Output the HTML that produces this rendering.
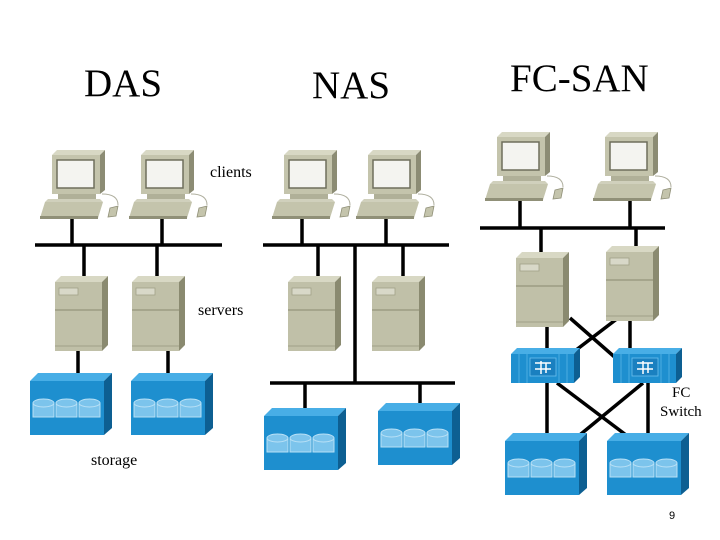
<!DOCTYPE html>
<html><head><meta charset="utf-8"><style>body{margin:0;background:#fff}svg{display:block}</style></head><body>
<svg width="720" height="540" viewBox="0 0 720 540" xmlns="http://www.w3.org/2000/svg">
<defs>
<g id="pc">
<polygon points="0,5 5,0 53,0 48,5" fill="#d8d8c4"/>
<polygon points="48,5 53,0 53,40 48,44" fill="#8c8c74"/>
<rect x="0" y="5" width="48" height="39" fill="#c4c4ac"/>
<rect x="5" y="10" width="37" height="28" fill="#f4f4f0" stroke="#6e6e5c" stroke-width="1.5"/>
<rect x="6" y="44" width="38" height="5" fill="#b0b098"/>
<polygon points="-4,49 48,49 51,52 -7,52" fill="#d0d0bc"/>
<polygon points="-7,52 51,52 46,68 -12,68" fill="#c4c4ac"/>
<rect x="-12" y="66" width="58" height="3" fill="#909078"/>
<path d="M50,44 Q66,44 66,55" fill="none" stroke="#b0b0a0" stroke-width="1"/>
<polygon points="58,58 66,56 64,66 56,67" fill="#c4c4ac" stroke="#909078" stroke-width="0.8"/>
</g>
<g id="srv">
<polygon points="0,6 6,0 53,0 47,6" fill="#d8d8c4"/>
<polygon points="47,6 53,0 53,69 47,75" fill="#8a8a70"/>
<rect x="0" y="6" width="47" height="69" fill="#c0c0a8"/>
<rect x="4" y="12" width="19" height="7" fill="#d8d8c8" stroke="#a0a088" stroke-width="0.8"/>
<line x1="0" y1="34" x2="47" y2="34" stroke="#8a8a70" stroke-width="1"/>
<line x1="0" y1="70" x2="47" y2="70" stroke="#a0a088" stroke-width="1"/>
</g>
<g id="sto">
<polygon points="0,8 8,0 82,0 74,8" fill="#48aee6"/>
<polygon points="74,8 82,0 82,55 74,62" fill="#0d5f92"/>
<rect x="0" y="8" width="74" height="54" fill="#1e8fcf"/>
<g fill="#7cc4ec" stroke="#b8e0f6" stroke-width="1">
<rect x="3" y="30" width="21" height="14"/><ellipse cx="13.5" cy="30" rx="10.5" ry="4"/>
<rect x="26" y="30" width="21" height="14"/><ellipse cx="36.5" cy="30" rx="10.5" ry="4"/>
<rect x="49" y="30" width="21" height="14"/><ellipse cx="59.5" cy="30" rx="10.5" ry="4"/>
</g>
</g>
<g id="sw">
<polygon points="0,6 6,0 69,0 63,6" fill="#48aee6"/>
<polygon points="63,6 69,0 69,29 63,35" fill="#0d5f92"/>
<rect x="0" y="6" width="63" height="29" fill="#1e8fcf"/>
<g stroke="#6cc0ee" stroke-width="0.6"><line x1="8" y1="6" x2="8" y2="35"/><line x1="16" y1="6" x2="16" y2="35"/><line x1="48" y1="6" x2="48" y2="35"/><line x1="56" y1="6" x2="56" y2="35"/></g>
<rect x="19" y="10" width="26" height="18" fill="#1a80c0" stroke="#6cc0ee" stroke-width="0.8"/>
<g stroke="#fff" stroke-width="1.5"><line x1="24" y1="15" x2="40" y2="15"/><line x1="30" y1="13" x2="30" y2="26"/><line x1="35" y1="15" x2="35" y2="25"/><line x1="24" y1="21" x2="40" y2="21"/></g>
</g>
</defs>
<g font-family="Liberation Serif, serif" fill="#000">
<text x="84" y="96" font-size="39">DAS</text>
<text x="312" y="98" font-size="39">NAS</text>
<text x="510" y="91" font-size="39">FC-SAN</text>
<text x="210" y="177" font-size="16">clients</text>
<text x="198" y="315" font-size="16">servers</text>
<text x="91" y="465" font-size="16">storage</text>
<text x="672" y="397" font-size="15">FC</text>
<text x="660" y="416" font-size="15">Switch</text>
</g>
<text x="669" y="519" font-size="11" font-family="Liberation Sans, sans-serif">9</text>
<g stroke="#000" stroke-width="3.5" fill="none">
<line x1="35" y1="245" x2="222" y2="245"/>
<line x1="72" y1="215" x2="72" y2="245"/><line x1="162" y1="215" x2="162" y2="245"/>
<line x1="84" y1="245" x2="84" y2="278"/><line x1="157" y1="245" x2="157" y2="278"/>
<line x1="78" y1="348" x2="78" y2="375"/><line x1="168" y1="348" x2="168" y2="375"/>
<line x1="263" y1="245" x2="449" y2="245"/>
<line x1="302" y1="215" x2="302" y2="245"/><line x1="386" y1="215" x2="386" y2="245"/>
<line x1="318" y1="245" x2="318" y2="278"/><line x1="403" y1="245" x2="403" y2="278"/>
<line x1="355" y1="245" x2="355" y2="383"/>
<line x1="270" y1="383" x2="455" y2="383"/>
<line x1="305" y1="383" x2="305" y2="410"/><line x1="420" y1="383" x2="420" y2="405"/>
<line x1="480" y1="228" x2="665" y2="228"/>
<line x1="520" y1="198" x2="520" y2="228"/><line x1="630" y1="198" x2="630" y2="228"/>
<line x1="541" y1="228" x2="541" y2="255"/><line x1="636" y1="228" x2="636" y2="250"/>
<line x1="547" y1="318" x2="547" y2="350"/><line x1="630" y1="318" x2="630" y2="350"/>
<line x1="570" y1="318" x2="618" y2="360"/><line x1="618" y1="318" x2="563" y2="360"/>
<line x1="547" y1="383" x2="547" y2="435"/><line x1="648" y1="383" x2="648" y2="436"/>
<line x1="557" y1="383" x2="630" y2="438"/><line x1="643" y1="383" x2="570" y2="443"/>
</g>
<use href="#pc" x="52" y="150"/><use href="#pc" x="141" y="150"/>
<use href="#pc" x="284" y="150"/><use href="#pc" x="368" y="150"/>
<use href="#pc" x="497" y="132"/><use href="#pc" x="605" y="132"/>
<use href="#srv" x="55" y="276"/><use href="#srv" x="132" y="276"/>
<use href="#srv" x="288" y="276"/><use href="#srv" x="372" y="276"/>
<use href="#srv" x="516" y="252"/><use href="#srv" x="606" y="246"/>
<use href="#sto" x="30" y="373"/><use href="#sto" x="131" y="373"/>
<use href="#sto" x="264" y="408"/><use href="#sto" x="378" y="403"/>
<use href="#sto" x="505" y="433"/><use href="#sto" x="607" y="433"/>
<use href="#sw" x="511" y="348"/><use href="#sw" x="613" y="348"/>
</svg>
</body></html>
